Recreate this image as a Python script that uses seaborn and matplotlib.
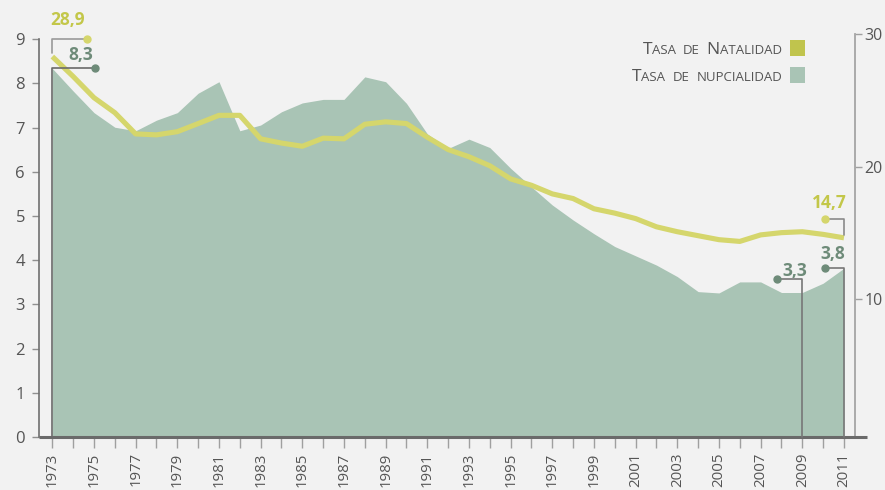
import matplotlib
matplotlib.use("Agg")
import matplotlib.pyplot as plt
import seaborn as sns
import pandas as pd
from matplotlib.lines import Line2D
from matplotlib.transforms import IdentityTransform
from matplotlib.offsetbox import TextArea, HPacker, AnnotationBbox
from matplotlib.patches import Rectangle

# ---------------- data ----------------
years = list(range(1973, 2012))
nupcialidad = [8.34, 7.83, 7.34, 7.01, 6.93, 7.17, 7.34, 7.78, 8.04, 6.93,
               7.06, 7.36, 7.56, 7.64, 7.64, 8.15, 8.04, 7.55, 6.86, 6.53,
               6.74, 6.55, 6.08, 5.66, 5.25, 4.91, 4.60, 4.31, 4.10, 3.89,
               3.63, 3.29, 3.26, 3.51, 3.51, 3.27, 3.27, 3.48, 3.82]
natalidad = [28.3, 26.8, 25.2, 24.07, 22.47, 22.4, 22.64, 23.25, 23.87, 23.87,
             22.1, 21.78, 21.54, 22.15, 22.1, 23.2, 23.38, 23.25, 22.22, 21.29,
             20.75, 20.07, 19.08, 18.6, 17.95, 17.6, 16.83, 16.5, 16.09, 15.47,
             15.1, 14.8, 14.5, 14.37, 14.86, 15.03, 15.1, 14.9, 14.64]
left_ticks = list(range(0, 10))
right_ticks = [10, 20, 30]
label_years = list(range(1973, 2012, 2))
legend_labels = ["Tasa de Natalidad", "Tasa de nupcialidad"]
ann_nat = ["28,9", "14,7"]
ann_nup = ["8,3", "3,3", "3,8"]

df = pd.DataFrame({"year": years, "nup": nupcialidad, "nat": natalidad})

# ---------------- style ----------------
sns.set_theme(style="white")
plt.rcParams["font.family"] = ["Open Sans", "DejaVu Sans"]
BG = "#f2f2f2"
AREA = "#a9c4b5"
LINE = "#d5d66c"
NAT_TXT = "#c3c749"
NUP_TXT = "#6e8b79"
TXT = "#555555"

W, H = 885, 490
fig = plt.figure(figsize=(W / 100, H / 100), dpi=100, facecolor=BG)
ax = fig.add_axes([39 / W, (H - 437) / H, (855 - 39) / W, (437 - 34) / H])
ax.set_facecolor(BG)

ax.fill_between(df["year"], df["nup"], 0, color=AREA, lw=0, zorder=1)
ax.set_xlim(1972.36, 2011.53)
ax.set_ylim(0, 9.12)

ax2 = ax.twinx()
sns.lineplot(data=df, x="year", y="nat", ax=ax2, color=LINE, lw=3.7,
             solid_capstyle="butt", zorder=3)
ax2.set_ylim(-0.37, 30)
ax2.set_xlim(1972.36, 2011.53)
ax2.set_ylabel("")
ax.set_ylabel("")
ax.set_xlabel("")
ax2.set_xlabel("")

# spines
for a in (ax, ax2):
    for s in a.spines.values():
        s.set_visible(False)
ax.spines["left"].set_visible(True)
ax.spines["left"].set_color("#707070")
ax.spines["left"].set_linewidth(1.2)
ax.spines["left"].set_bounds(0, 9)
ax2.spines["right"].set_visible(True)
ax2.spines["right"].set_color("#a5a5a5")
ax2.spines["right"].set_linewidth(1.3)

# ticks
ax.set_yticks(left_ticks)
ax.set_yticklabels([str(t) for t in left_ticks])
ax.tick_params(axis="y", left=True, direction="out", length=5, width=1,
               color="#909090", labelsize=12, labelcolor=TXT, pad=5)
ax2.set_yticks(right_ticks)
ax2.set_yticklabels([str(t) for t in right_ticks])
ax2.tick_params(axis="y", right=True, direction="out", length=5, width=1,
                color="#a0a0a0", labelsize=11.5, labelcolor=TXT, pad=2)
ax.set_xticks(years)
ax.set_xticklabels([str(y) if y in label_years else "" for y in years],
                   rotation=90)
ax.tick_params(axis="x", bottom=True, direction="out", length=8, width=1,
               color="#a0a0a0", labelsize=10.8, labelcolor=TXT, pad=3)
ax2.tick_params(axis="x", bottom=False, top=False, labelbottom=False)

# thick baseline
fig.add_artist(Line2D([39, 867], [H - 437, H - 437], transform=IdentityTransform(),
                      color="#6a6a6a", lw=2.2, solid_capstyle="butt", zorder=5))

# ---------------- annotations ----------------
def disp(a, x, y):
    return a.transData.transform((x, y))


def leader(pts, lcolor, dcolor):
    xs = [p[0] for p in pts]
    ys = [p[1] for p in pts]
    fig.add_artist(Line2D(xs, ys, transform=IdentityTransform(), color=lcolor,
                          lw=1.2, zorder=6))
    fig.add_artist(Line2D([xs[-1]], [ys[-1]], transform=IdentityTransform(),
                          marker="o", ms=5, color=dcolor, lw=0, zorder=7))


def label(x, y, s, color):
    fig.text(x, y, s, transform=IdentityTransform(), color=color, fontsize=12.5,
             fontweight="bold", ha="center", va="center", zorder=8)


# natalidad 1973
ax_, ay_ = disp(ax2, years[0], natalidad[0])
leader([(ax_, ay_ + 4), (ax_, ay_ + 18), (ax_ + 35, ay_ + 18)], "#9a9a9a", LINE)
label(ax_ + 15, ay_ + 37, ann_nat[0], NAT_TXT)
# natalidad 2011
bx, by = disp(ax2, years[-1], natalidad[-1])
leader([(bx, by + 3), (bx, by + 19), (bx - 19, by + 19)], "#8a8a8a", LINE)
label(bx - 15, by + 35, ann_nat[1], NAT_TXT)

# nupcialidad 1973
cx, cy0 = disp(ax, years[0], 0)
_, cy = disp(ax, years[0], nupcialidad[0])
leader([(cx, cy0), (cx, cy), (cx + 43, cy)], "#6a6a6a", NUP_TXT)
label(cx + 28, cy + 13, ann_nup[0], NUP_TXT)
# nupcialidad 2009
i09 = years.index(2009)
dx, dy0 = disp(ax, years[i09], 0)
_, dy = disp(ax, years[i09], nupcialidad[i09])
leader([(dx, dy0), (dx, dy + 14), (dx - 25, dy + 14)], "#777777", NUP_TXT)
label(dx - 8, dy + 22, ann_nup[1], NUP_TXT)
# nupcialidad 2011
ex, ey0 = disp(ax, years[-1], 0)
_, ey = disp(ax, years[-1], nupcialidad[-1])
leader([(ex, ey0), (ex, ey), (ex - 19, ey)], "#777777", NUP_TXT)
label(ex - 11, ey + 14, ann_nup[2], NUP_TXT)

# ---------------- legend (small caps) ----------------
def smallcaps_box(text, big=12.5, small=9.5):
    words = []
    for w in text.split():
        parts = []
        if w[0].isupper():
            parts.append(TextArea(w[0], textprops=dict(fontsize=big, color=TXT)))
            rest = w[1:]
        else:
            rest = w
        if rest:
            parts.append(TextArea(rest.upper(), textprops=dict(fontsize=small, color=TXT)))
        words.append(HPacker(children=parts, align="baseline", pad=0, sep=0))
    return HPacker(children=words, align="baseline", pad=0, sep=5)


leg_colors = ["#c0c44d", AREA]
leg_y = [48, 75]
for lab, col, yy in zip(legend_labels, leg_colors, leg_y):
    box = smallcaps_box(lab)
    ab = AnnotationBbox(box, (782, H - yy - 2), xycoords="figure pixels",
                        box_alignment=(1, 0.5), frameon=False, pad=0)
    fig.add_artist(ab)
    fig.add_artist(Rectangle(((790) / W, (H - yy - 8) / H), 15 / W, 16 / H,
                             transform=fig.transFigure, color=col, lw=0))

fig.savefig("out.png", dpi=100, facecolor=BG)
